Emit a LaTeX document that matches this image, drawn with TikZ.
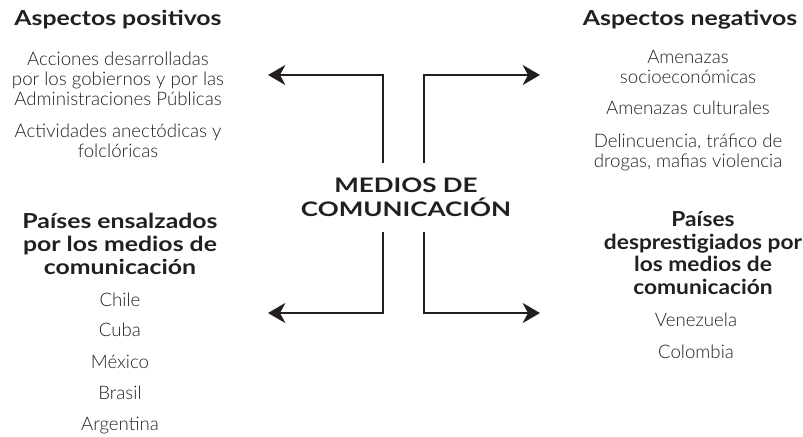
\documentclass[tikz,border=0pt]{standalone}
\usepackage{fontspec}
\setmainfont{Lato}[UprightFont=* Light, BoldFont=* Bold]
\newfontfamily\anchafont{Lato}[UprightFont=* Bold, FakeStretch=1.2]
\newfontfamily\estrechafont{Lato}[UprightFont=* Bold, FakeStretch=1.1]
\newfontfamily\centrofont{Lato}[UprightFont=* Bold, FakeStretch=1.3]
\usetikzlibrary{arrows.meta}
\definecolor{tinta}{HTML}{231F20}
\tikzset{
  titulo/.style={font=\anchafont\fontsize{15.5}{17}\selectfont, align=center, text=tinta, inner sep=0pt},
  item/.style={font=\fontsize{14}{15}\selectfont, align=center, text=tinta, inner sep=0pt},
  flecha/.style={-{Stealth[length=13pt,width=15pt,inset=4pt]}, line width=1.5pt, draw=tinta}
}

\begin{document}
\begin{tikzpicture}[x=0.75pt, y=-0.75pt]
\useasboundingbox (0,0) rectangle (803,436);
\node[font=\centrofont\fontsize{15}{18}\selectfont, align=center, text=tinta, inner xsep=0pt, inner ysep=11pt] (medios) at (406,197.5) {MEDIOS DE\\COMUNICACIÓN};

% arriba a la izquierda
\node[titulo] (positivos) at (118,20) {Aspectos positivos};
\node[item] (acciones) at (118,79) {Acciones desarrolladas\\por los gobiernos y por las\\Administraciones Públicas};
\node[item] (folclore) at (118,141) {Actividades anectódicas y\\folclóricas};

% arriba a la derecha
\node[titulo] (negativos) at (690,20) {Aspectos negativos};
\node[item] (socio) at (688,67) {Amenazas\\socioeconómicas};
\node[item] (culturales) at (688,108) {Amenazas culturales};
\node[item] (delitos) at (688,152) {Delincuencia, tráfico de\\drogas, mafias violencia};

% abajo a la izquierda
\node[titulo] (ensalzados) at (120,244) {Países ensalzados\\por los medios de\\comunicación};
\node[item] (chile) at (120,300) {Chile};
\node[item] (cuba) at (120,330) {Cuba};
\node[item] (mexico) at (120,362) {México};
\node[item] (brasil) at (120,393) {Brasil};
\node[item] (argentina) at (120,426) {Argentina};

% abajo a la derecha
\node[titulo, font=\estrechafont\fontsize{15.5}{17}\selectfont] (desprestigiados) at (703,253) {Países\\desprestigiados por\\los medios de\\comunicación};
\node[item] (venezuela) at (696,320) {Venezuela};
\node[item] (colombia) at (696,352) {Colombia};

% flechas
\coordinate (fai) at (268,75);
\coordinate (fad) at (540,75);
\coordinate (fbi) at (268,313);
\coordinate (fbd) at (540,313);
\draw[flecha] ([xshift=-17pt]medios.north) |- (fai);
\draw[flecha] ([xshift=13.6pt]medios.north) |- (fad);
\draw[flecha] ([xshift=-17pt]medios.south) |- (fbi);
\draw[flecha] ([xshift=13.6pt]medios.south) |- (fbd);
\end{tikzpicture}
\end{document}
